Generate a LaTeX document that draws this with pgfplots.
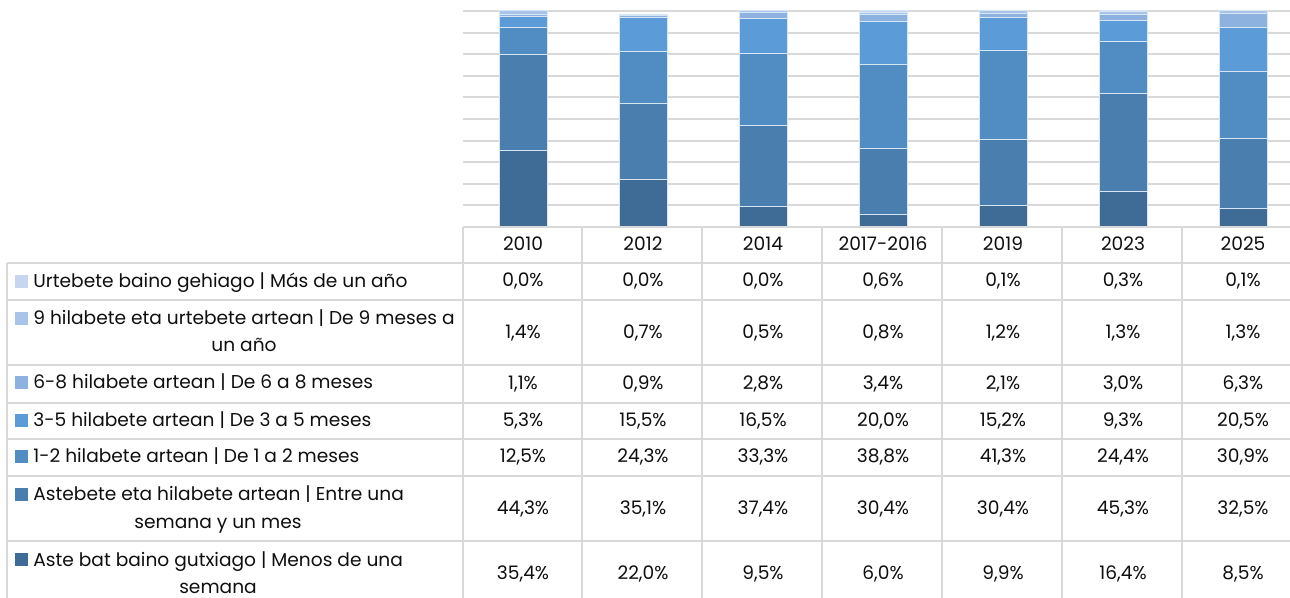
\documentclass[border=0pt]{standalone}
\usepackage{pgfplots}
\pgfplotsset{compat=1.18}
\usepackage{fontspec}
\setmainfont{Poppins}

\definecolor{cA}{RGB}{63,108,150}
\definecolor{cB}{RGB}{74,126,175}
\definecolor{cC}{RGB}{81,141,194}
\definecolor{cD}{RGB}{90,155,216}
\definecolor{cE}{RGB}{141,178,223}
\definecolor{cF}{RGB}{169,196,232}
\definecolor{cG}{RGB}{199,214,238}
\definecolor{gridc}{RGB}{217,217,217}
\definecolor{txt}{RGB}{15,15,15}

% one row of values, #1 = baseline (px)
\newcommand\vrow[8]{%
  \node[anchor=base] at (523,#1) {#2};
  \node[anchor=base] at (643,#1) {#3};
  \node[anchor=base] at (763,#1) {#4};
  \node[anchor=base] at (883,#1) {#5};
  \node[anchor=base] at (1003,#1) {#6};
  \node[anchor=base] at (1123,#1) {#7};
  \node[anchor=base] at (1243,#1) {#8};
}
\newcommand\key[2]{\fill[#1] (15,#2) rectangle (28,#2-13);}

\begin{document}
\begin{tikzpicture}[font=\fontsize{9.3pt}{11pt}\selectfont, text=txt]

\begin{axis}[
    at={(231.5pt,-113.5pt)}, anchor=south west,
    scale only axis, width=413.5pt, height=108pt,
    xmin=-0.5, xmax=6.3917, ymin=0, ymax=100,
    ybar stacked, bar width=24pt,
    axis line style={draw=none},
    xtick=\empty, ytick={0,10,...,100}, yticklabels={},
    major tick length=0pt,
    ymajorgrids, grid style={gridc, line width=1pt},
    clip=false,
    every axis plot/.append style={draw=white!75!cD, line width=0.5pt},
  ]
  \addplot[fill=cA] coordinates {(0,35.4) (1,22.0) (2,9.5) (3,6.0) (4,9.9) (5,16.4) (6,8.5)};
  \addplot[fill=cB] coordinates {(0,44.3) (1,35.1) (2,37.4) (3,30.4) (4,30.4) (5,45.3) (6,32.5)};
  \addplot[fill=cC] coordinates {(0,12.5) (1,24.3) (2,33.3) (3,38.8) (4,41.3) (5,24.4) (6,30.9)};
  \addplot[fill=cD] coordinates {(0,5.3) (1,15.5) (2,16.5) (3,20.0) (4,15.2) (5,9.3) (6,20.5)};
  \addplot[fill=cE] coordinates {(0,1.1) (1,0.9) (2,2.8) (3,3.4) (4,2.1) (5,3.0) (6,6.3)};
  \addplot[fill=cF] coordinates {(0,1.4) (1,0.7) (2,0.5) (3,0.8) (4,1.2) (5,1.3) (6,1.3)};
  \addplot[fill=cG] coordinates {(0,0.0) (1,0.0) (2,0.0) (3,0.6) (4,0.1) (5,0.3) (6,0.1)};
\end{axis}

\begin{scope}[x=0.5pt,y=-0.5pt, every node/.style={inner sep=0pt}]
  % table grid
  \draw[gridc, line width=1pt] (463,227) -- (1300,227);
  \foreach \yy in {263,300,365,403,439,476,541}
    \draw[gridc, line width=1pt] (7,\yy) -- (1300,\yy);
  \draw[gridc, line width=1pt] (7,263) -- (7,610);
  \foreach \xx in {463,582,702,822,942,1062,1182}
    \draw[gridc, line width=1pt] (\xx,227) -- (\xx,610);

  % header
  \vrow{251}{2010}{2012}{2014}{2017-2016}{2019}{2023}{2025}

  % row labels
  \key{cG}{288}
  \node[anchor=base west] at (33,288) {Urtebete baino gehiago | Más de un año};
  \key{cF}{325}
  \node[anchor=base west] at (33,325) {9 hilabete eta urtebete artean | De 9 meses a};
  \node[anchor=base] at (244,352) {un año};
  \key{cE}{389}
  \node[anchor=base west] at (33,389) {6-8 hilabete artean | De 6 a 8 meses};
  \key{cD}{427}
  \node[anchor=base west] at (33,427) {3-5 hilabete artean | De 3 a 5 meses};
  \key{cC}{463}
  \node[anchor=base west] at (33,463) {1-2 hilabete artean | De 1 a 2 meses};
  \key{cB}{501}
  \node[anchor=base west] at (33,501) {Astebete eta hilabete artean | Entre una};
  \node[anchor=base] at (218,528) {semana y un mes};
  \key{cA}{566}
  \node[anchor=base west] at (33,566) {Aste bat baino gutxiago | Menos de una};
  \node[anchor=base] at (218,593) {semana};

  % values
  \vrow{287}{0,0\%}{0,0\%}{0,0\%}{0,6\%}{0,1\%}{0,3\%}{0,1\%}
  \vrow{339}{1,4\%}{0,7\%}{0,5\%}{0,8\%}{1,2\%}{1,3\%}{1,3\%}
  \vrow{390}{1,1\%}{0,9\%}{2,8\%}{3,4\%}{2,1\%}{3,0\%}{6,3\%}
  \vrow{427}{5,3\%}{15,5\%}{16,5\%}{20,0\%}{15,2\%}{9,3\%}{20,5\%}
  \vrow{463}{12,5\%}{24,3\%}{33,3\%}{38,8\%}{41,3\%}{24,4\%}{30,9\%}
  \vrow{514}{44,3\%}{35,1\%}{37,4\%}{30,4\%}{30,4\%}{45,3\%}{32,5\%}
  \vrow{579}{35,4\%}{22,0\%}{9,5\%}{6,0\%}{9,9\%}{16,4\%}{8,5\%}

  % the page is exactly the reference frame
  \pgfresetboundingbox
  \path[use as bounding box] (0,0) rectangle (1290,598);
\end{scope}
\end{tikzpicture}
\end{document}
